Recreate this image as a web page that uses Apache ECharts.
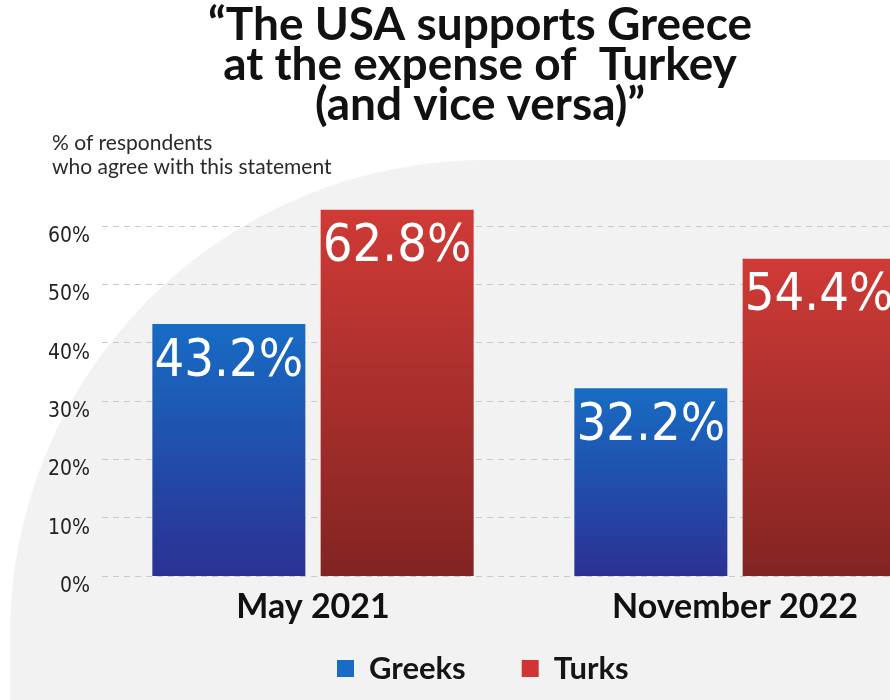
<!DOCTYPE html>
<html>
<head>
<meta charset="utf-8">
<script src="https://cdn.jsdelivr.net/npm/echarts@6/dist/echarts.min.js"></script>
<style>
  html, body { margin: 0; padding: 0; background: #ffffff; }
  #chart { width: 890px; height: 700px; }
</style>
</head>
<body>
<div id="chart"></div>
<script>
// Survey waves and the share agreeing, per group
const waves = ['May 2021', 'November 2022'];
const greeks = [43.2, 32.2];
const turks = [62.8, 54.4];
const yTicks = [0, 10, 20, 30, 40, 50, 60];

const titleText = '\u201CThe USA supports Greece\nat the expense of  Turkey\n(and vice versa)\u201D';
const subtitleText = '% of respondents\nwho agree with this statement';

const numberFont = "'Liberation Sans Narrow', 'DejaVu Sans Condensed', 'Roboto', sans-serif";
const textFont = "Lato, 'Open Sans', sans-serif";

function vGrad(top, bottom) {
  return new echarts.graphic.LinearGradient(0, 0, 0, 1, [
    { offset: 0, color: top },
    { offset: 1, color: bottom }
  ]);
}

const chart = echarts.init(document.getElementById('chart'), null, { renderer: 'canvas' });

const barLabel = {
  show: true,
  position: 'insideTop',
  distance: 12,
  color: '#ffffff',
  fontFamily: numberFont,
  fontSize: 52,
  formatter: p => p.value + '%'
};

chart.setOption({
  backgroundColor: '#ffffff',
  animation: false,
  title: [
    {
      text: titleText,
      left: 480,
      top: 5,
      padding: 0,
      textAlign: 'center',
      textStyle: {
        fontFamily: textFont,
        fontWeight: 'bold',
        fontSize: 46,
        lineHeight: 40,
        color: '#111111'
      }
    },
    {
      text: subtitleText,
      left: 52,
      top: 131,
      padding: 0,
      textStyle: {
        fontFamily: textFont,
        fontWeight: 'normal',
        fontSize: 21,
        lineHeight: 24,
        color: '#2a2a2a'
      }
    }
  ],
  graphic: [
    {
      type: 'rect',
      z: -1,
      silent: true,
      shape: { x: 10, y: 160, width: 900, height: 560, r: [475, 0, 0, 0] },
      style: { fill: '#f2f2f2' }
    }
  ],
  legend: {
    left: 337,
    top: 653,
    padding: 0,
    itemWidth: 17,
    itemHeight: 17,
    itemGap: 56,
    icon: 'rect',
    textStyle: {
      fontFamily: textFont,
      fontWeight: 'bold',
      fontSize: 31,
      color: '#151515',
      padding: [0, 0, 0, 10]
    },
    data: [
      { name: 'Greeks', itemStyle: { color: '#1a6bc6' } },
      { name: 'Turks', itemStyle: { color: '#d33433' } }
    ]
  },
  grid: {
    left: 102,
    width: 844,
    top: 226,
    bottom: 124,
    containLabel: false,
    outerBoundsMode: 'none'
  },
  xAxis: {
    type: 'category',
    data: waves,
    axisLine: { show: false },
    axisTick: { show: false },
    axisLabel: {
      margin: 14,
      fontFamily: textFont,
      fontWeight: 'bold',
      fontSize: 34,
      color: '#111111'
    }
  },
  yAxis: {
    type: 'value',
    min: yTicks[0],
    max: yTicks[yTicks.length - 1],
    interval: yTicks[1] - yTicks[0],
    axisLine: { show: false },
    axisTick: { show: false },
    axisLabel: {
      margin: 12,
      verticalAlign: 'top',
      fontFamily: numberFont,
      fontSize: 21,
      color: '#222222',
      formatter: '{value}%'
    },
    splitLine: {
      lineStyle: { color: '#c9c9c9', width: 1, type: [6, 5] }
    }
  },
  series: [
    {
      name: 'Greeks',
      type: 'bar',
      data: greeks,
      barWidth: 153,
      barGap: '10%',
      clip: false,
      itemStyle: { color: vGrad('#176cc4', '#2b3194') },
      label: barLabel
    },
    {
      name: 'Turks',
      type: 'bar',
      data: turks,
      barWidth: 153,
      barGap: '10%',
      clip: false,
      itemStyle: { color: vGrad('#d03a36', '#822422') },
      label: barLabel
    }
  ]
});
</script>
</body>
</html>
